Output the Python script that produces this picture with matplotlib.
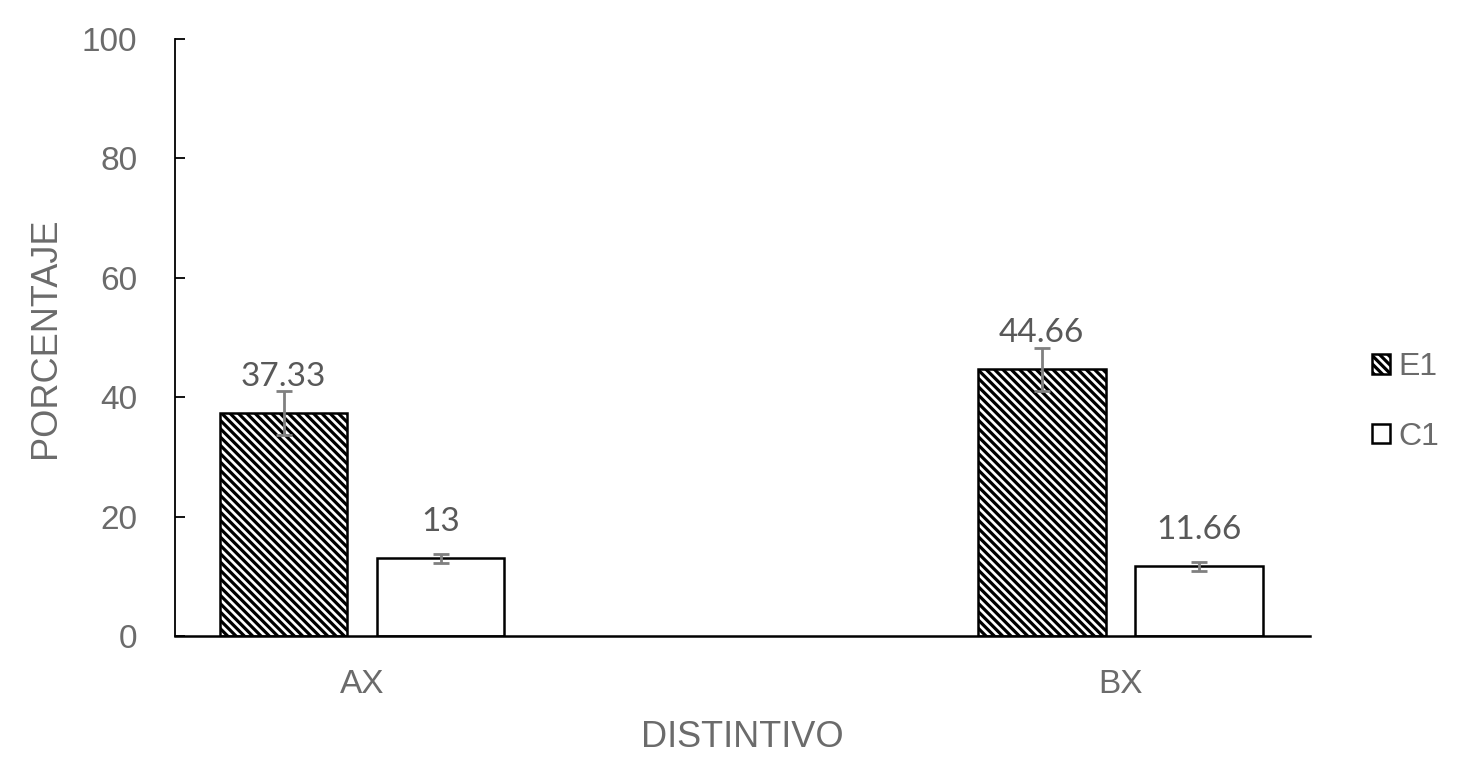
import matplotlib
matplotlib.use("Agg")
import matplotlib.pyplot as plt
import numpy as np

categories = ["AX", "BX"]
series_names = ["E1", "C1"]
e1_values = [37.33, 44.66]
c1_values = [13, 11.66]
e1_err = [3.7, 3.6]
c1_err = [0.7, 0.8]
value_labels_e1 = ["37.33", "44.66"]
value_labels_c1 = ["13", "11.66"]

plt.rcParams['hatch.linewidth'] = 2.3
plt.rcParams['hatch.color'] = 'black'

gray = '#6b6b6b'
fig = plt.figure(figsize=(14.83, 7.66), dpi=100)
ax = fig.add_axes([0.118, 0.1697, 0.7653, 0.7793])

x = np.arange(len(categories))
w = 0.168
off = 0.1036

b1 = ax.bar(x - off, e1_values, w, color='white', edgecolor='black', linewidth=1.8,
            hatch='\\\\\\\\', label=series_names[0], zorder=2)
b2 = ax.bar(x + off, c1_values, w, color='white', edgecolor='black', linewidth=1.8,
            label=series_names[1], zorder=2)
ax.errorbar(x - off, e1_values, yerr=e1_err, fmt='none', ecolor='#808080',
            elinewidth=2, capsize=6, capthick=2, zorder=3)
ax.errorbar(x + off, c1_values, yerr=c1_err, fmt='none', ecolor='#808080',
            elinewidth=2, capsize=6, capthick=2, zorder=3)

for xi, v, t in zip(x - off, e1_values, value_labels_e1):
    ax.text(xi, v + 4.6, t, ha='center', va='baseline', fontsize=24,
            color='#595959', family='Lato')
for xi, v, t in zip(x + off, c1_values, value_labels_c1):
    ax.text(xi, v + 4.6, t, ha='center', va='baseline', fontsize=24,
            color='#595959', family='Lato')

ax.set_xlim(-0.247, 1.25)
ax.set_ylim(0, 100)
ax.set_yticks([0, 20, 40, 60, 80, 100])
ax.set_xticks(x)
ax.set_xticklabels(categories)
for s in ['top', 'right']:
    ax.spines[s].set_visible(False)
ax.spines['left'].set_linewidth(1.3)
ax.spines['bottom'].set_linewidth(1.8)
ax.tick_params(axis='y', direction='in', length=7, width=1.3, labelsize=24,
               labelcolor=gray, pad=27)
ax.tick_params(axis='x', length=0, labelsize=24, labelcolor=gray, pad=24)
for lab in ax.get_xticklabels() + ax.get_yticklabels():
    lab.set_family('Liberation Sans')

ax.set_ylabel('PORCENTAJE', fontsize=26, color=gray, family='Liberation Sans', labelpad=14)
ax.set_xlabel('DISTINTIVO', fontsize=26, color=gray, family='Liberation Sans', labelpad=14)

leg = fig.legend(handles=[b1, b2], labels=series_names, loc='center left',
                 bbox_to_anchor=(0.906, 0.475), frameon=False,
                 prop={'family': 'Liberation Sans', 'size': 23},
                 handlelength=0.55, handleheight=0.55, handletextpad=0.25,
                 labelspacing=1.25)
for t in leg.get_texts():
    t.set_color(gray)

fig.savefig('out.png', dpi=100)
